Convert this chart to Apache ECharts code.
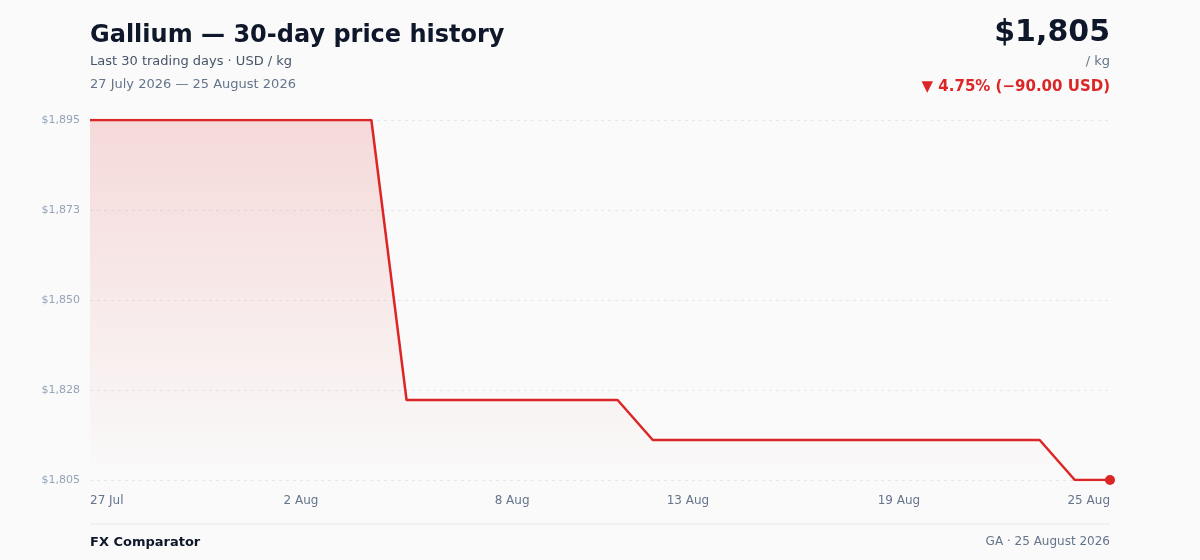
<!DOCTYPE html>
<html lang="en">
<head>
    <meta charset="UTF-8">
    <title>Gallium price history</title>
    <script src="https://cdn.jsdelivr.net/npm/echarts@6/dist/echarts.min.js"></script>
    <style type="text/css">
        * {
            margin: 0;
            padding: 0;
        }

        html, body {
            height: 100%;
            background: #fafafa;
        }
    </style>
</head>
<body>
<div id="main" style="width: 1200px;height:560px;"></div>

<script type="text/javascript">
    // trading days (category axis)
    var days = ['27 Jul', '28 Jul', '29 Jul', '30 Jul', '31 Jul',
        '1 Aug', '2 Aug', '3 Aug', '4 Aug', '5 Aug', '6 Aug', '7 Aug', '8 Aug', '9 Aug', '10 Aug',
        '11 Aug', '12 Aug', '13 Aug', '14 Aug', '15 Aug', '16 Aug', '17 Aug', '18 Aug', '19 Aug', '20 Aug',
        '21 Aug', '22 Aug', '23 Aug', '24 Aug', '25 Aug'];
    // USD / kg
    var prices = [1895, 1895, 1895, 1895, 1895, 1895, 1895, 1895, 1895,
        1825, 1825, 1825, 1825, 1825, 1825, 1825,
        1815, 1815, 1815, 1815, 1815, 1815, 1815, 1815, 1815, 1815, 1815, 1815,
        1805, 1805];
    // which days get a label on the x axis
    var shownDays = ['27 Jul', '2 Aug', '8 Aug', '13 Aug', '19 Aug', '25 Aug'];
    var yMin = 1805, yMax = 1895, yStep = 22.5;

    var red = '#dc2626';
    var font = 'DejaVu Sans';

    function money(v) {
        return '$' + Math.round(v).toLocaleString('en-US');
    }

    function txt(text, pos, size, weight, color) {
        var t = {text: text, padding: 0, textStyle: {fontSize: size, fontWeight: weight, color: color, fontFamily: font}};
        for (var k in pos) t[k] = pos[k];
        return t;
    }

    var myChart = echarts.init(document.getElementById('main'));
    var option = {
        backgroundColor: '#fafafa',
        textStyle: {fontFamily: font},
        title: [
            txt('Gallium — 30-day price history', {left: 90, top: 24}, 24, 'bold', '#0f172a'),
            txt('Last 30 trading days · USD / kg', {left: 90, top: 55}, 13, 'normal', '#475569'),
            txt('27 July 2026 — 25 August 2026', {left: 90, top: 78}, 13, 'normal', '#64748b'),
            txt(money(prices[prices.length - 1]), {right: 90, top: 18}, 30, 'bold', '#0f172a'),
            txt('/ kg', {right: 90, top: 55}, 13, 'normal', '#64748b'),
            txt('▼ 4.75% (−90.00 USD)', {right: 90, top: 80}, 15, 'bold', red),
            txt('FX Comparator', {left: 90, top: 536}, 13, 'bold', '#0f172a'),
            txt('GA · 25 August 2026', {right: 90, top: 536}, 12, 'normal', '#64748b')
        ],
        graphic: [
            {
                type: 'line',
                shape: {x1: 90, y1: 524, x2: 1110, y2: 524},
                style: {stroke: '#e5e7eb', lineWidth: 1}
            }
        ],
        grid: {left: 90, right: 90, top: 120, bottom: 80},
        xAxis: {
            type: 'category',
            data: days,
            boundaryGap: false,
            axisLine: {show: false},
            axisTick: {show: false},
            axisLabel: {
                color: '#64748b',
                fontSize: 12,
                margin: 15,
                alignMinLabel: 'left',
                alignMaxLabel: 'right',
                interval: function (i, v) {
                    return shownDays.indexOf(v) >= 0;
                }
            }
        },
        yAxis: {
            type: 'value',
            min: yMin,
            max: yMax,
            interval: yStep,
            axisLine: {show: false},
            axisTick: {show: false},
            axisLabel: {
                color: '#94a3b8',
                fontSize: 11,
                margin: 10,
                formatter: money
            },
            splitLine: {lineStyle: {color: '#e2e8f0', type: [3, 4]}}
        },
        series: [
            {
                type: 'line',
                data: prices,
                showAllSymbol: true,
                symbol: 'circle',
                symbolSize: function (v, p) {
                    return p.dataIndex === prices.length - 1 ? 10 : 0;
                },
                itemStyle: {color: red},
                lineStyle: {color: red, width: 2.5},
                areaStyle: {
                    color: new echarts.graphic.LinearGradient(0, 0, 0, 1, [
                        {offset: 0, color: 'rgba(220,38,38,0.22)'},
                        {offset: 1, color: 'rgba(220,38,38,0)'}
                    ])
                },
                animation: false
            }
        ]
    };
    myChart.setOption(option);
</script>
</body>
</html>
